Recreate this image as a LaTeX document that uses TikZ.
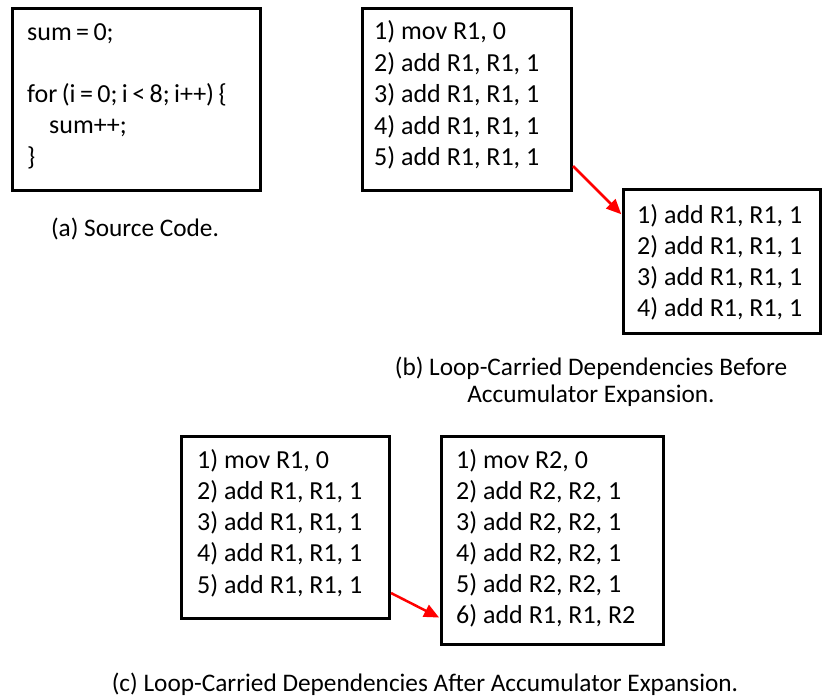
\documentclass[tikz,border=0pt]{standalone}
\usepackage{fontspec}
\setmainfont{Carlito}
\newfontfamily\srcfont[WordSpace=0.75]{Carlito}
\usetikzlibrary{arrows.meta}

\tikzset{
  box/.style={draw=black, line width=3pt, inner sep=0pt, anchor=north west},
  code/.style={font=\fontsize{26pt}{31pt}\selectfont, inner sep=0pt, anchor=base west},
  src/.style={code, font=\srcfont\fontsize{26pt}{31pt}\selectfont},
  caption/.style={font=\fontsize{25.3pt}{30pt}\selectfont, inner sep=0pt, anchor=base},
  dep/.style={draw=red, line width=2.5pt, -{Triangle[length=15pt,width=13pt]}, shorten >=1pt}
}

\begin{document}
\begin{tikzpicture}[x=1pt,y=-1pt]
  \fill[white] (0,0) rectangle (822,698);
  \useasboundingbox (0,0) rectangle (822,698);

  % (a) source code
  \node[box, minimum width=248pt, minimum height=182pt] (srcbox) at (11,7) {};
  \node[src] (a-1) at (27,41)  {sum = 0;};
  \node[src] (a-2) at (27,103) {for (i = 0; i < 8; i++) \{};
  \node[src] (a-3) at (49,134) {sum++;};
  \node[src] (a-4) at (27,165) {\}};
  \node[caption] (capa) at (135,236) {(a) Source Code.};

  % (b) before accumulator expansion
  \node[box, minimum width=209pt, minimum height=182pt] (b1) at (361,7) {};
  \foreach \t [count=\i] in {{1) mov R1, 0},{2) add R1, R1, 1},{3) add R1, R1, 1},{4) add R1, R1, 1},{5) add R1, R1, 1}}
    \node[code] (b1-\i) at ({374},{40+31.5*(\i-1)}) {\t};

  \node[box, minimum width=197pt, minimum height=144pt] (b2) at (622,188) {};
  \foreach \t [count=\i] in {{1) add R1, R1, 1},{2) add R1, R1, 1},{3) add R1, R1, 1},{4) add R1, R1, 1}}
    \node[code] (b2-\i) at ({637},{223+31*(\i-1)}) {\t};

  \draw[dep] ([yshift=26pt]b1.south east) -- ([yshift=-27pt]b2.north west);

  \node[caption] (capb1) at (591,375) {(b) Loop-Carried Dependencies Before};
  \node[caption] (capb2) at (591,402) {Accumulator Expansion.};

  % (c) after accumulator expansion
  \node[box, minimum width=208pt, minimum height=182pt] (c1) at (180,435) {};
  \foreach \t [count=\i] in {{1) mov R1, 0},{2) add R1, R1, 1},{3) add R1, R1, 1},{4) add R1, R1, 1},{5) add R1, R1, 1}}
    \node[code] (c1-\i) at ({197},{468+31.25*(\i-1)}) {\t};

  \node[box, minimum width=222pt, minimum height=208pt] (c2) at (440,435) {};
  \foreach \t [count=\i] in {{1) mov R2, 0},{2) add R2, R2, 1},{3) add R2, R2, 1},{4) add R2, R2, 1},{5) add R2, R2, 1},{6) add R1, R1, R2}}
    \node[code] (c2-\i) at ({456},{468+31*(\i-1)}) {\t};

  \draw[dep] ([yshift=27pt]c1.south east) -- ([yshift=28pt]c2.south west);

  \node[caption] (capc) at (425,691) {(c) Loop-Carried Dependencies After Accumulator Expansion.};
\end{tikzpicture}
\end{document}
